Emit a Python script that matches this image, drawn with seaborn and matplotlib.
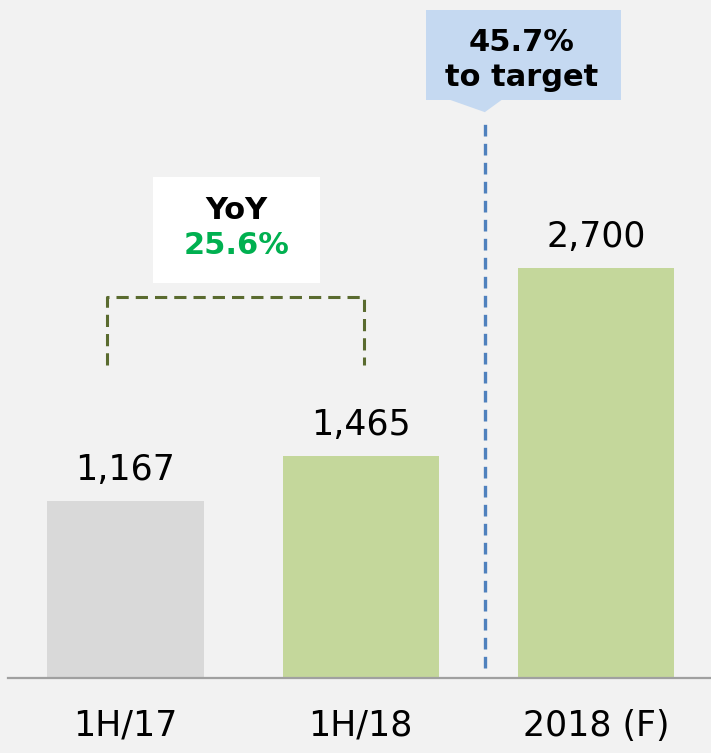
import numpy as np
import matplotlib
matplotlib.use("Agg")
import matplotlib.pyplot as plt
import matplotlib.patches as mpatches
import seaborn as sns

periods   = ["1H/17", "1H/18", "2018 (F)"]
revenue   = [1167, 1465, 2700]
bar_cols  = ["#d9d9d9", "#c4d79b", "#c4d79b"]
yoy_text  = "25.6%"
tgt_text  = ["45.7%", "to target"]

BG = "#f2f2f2"
sns.set_theme(style="white")
plt.rcParams["font.family"] = ["DejaVu Sans"]

fig = plt.figure(figsize=(7.11, 7.53), dpi=100, facecolor=BG)
ax = fig.add_axes([8 / 711, 75 / 753, 1 - 8 / 711, 678 / 753])
ax.set_facecolor(BG)

sns.barplot(x=periods, y=revenue, hue=periods, palette=bar_cols,
            width=0.664, legend=False, ax=ax, saturation=1, linewidth=0)

# px -> data helpers (1 px = 6.59 units, bar step = 235 px)
ups = 6.59
ax.set_ylim(0, 678 * ups)
ax.set_xlim(-0.5, 2.49)

for c in ax.containers:
    ax.bar_label(c, labels=[f"{v:,.0f}" for v in c.datavalues],
                 padding=10, fontsize=25, color="black")

# YoY box + bracket
ax.add_patch(mpatches.Rectangle((0.115, 2603), 0.711, 699, facecolor="white",
                                edgecolor="none", zorder=3))
ax.text(0.47, 3084, "YoY", ha="center", va="center", fontsize=22,
        fontweight="bold", color="black", zorder=4)
ax.text(0.47, 2853, yoy_text, ha="center", va="center", fontsize=22,
        fontweight="bold", color="#00b050", zorder=4)
ax.plot([-0.077, -0.077, 1.013, 1.013], [2063, 2511, 2511, 2063],
        ls=(0, (4, 2.3)), lw=2.2, color="#5a6b2f", zorder=3)

# target callout
ax.add_patch(mpatches.Rectangle((1.277, 3809), 0.83, 593, facecolor="#c5d9f1",
                                edgecolor="none", zorder=3))
ax.add_patch(mpatches.Polygon([[1.38, 3810], [1.60, 3810], [1.528, 3729]],
                              closed=True, facecolor="#c5d9f1", edgecolor="none", zorder=3))
ax.text(1.685, 4191, tgt_text[0], ha="center", va="center", fontsize=22,
        fontweight="bold", color="black", zorder=4)
ax.text(1.685, 3954, tgt_text[1], ha="center", va="center", fontsize=22,
        fontweight="bold", color="black", zorder=4)
ax.plot([1.528, 1.528], [66, 3677], ls=(0, (3.5, 2.2)), lw=2.4,
        color="#4f81bd", zorder=2)

sns.despine(ax=ax, left=True, top=True, right=True)
ax.spines["bottom"].set_color("#a0a0a0")
ax.spines["bottom"].set_linewidth(1.6)
ax.set_yticks([])
ax.tick_params(axis="x", length=0, pad=22, labelsize=25, colors="black")
ax.set_xlabel("")
ax.set_ylabel("")

fig.savefig("out.png", dpi=100, facecolor=BG)
